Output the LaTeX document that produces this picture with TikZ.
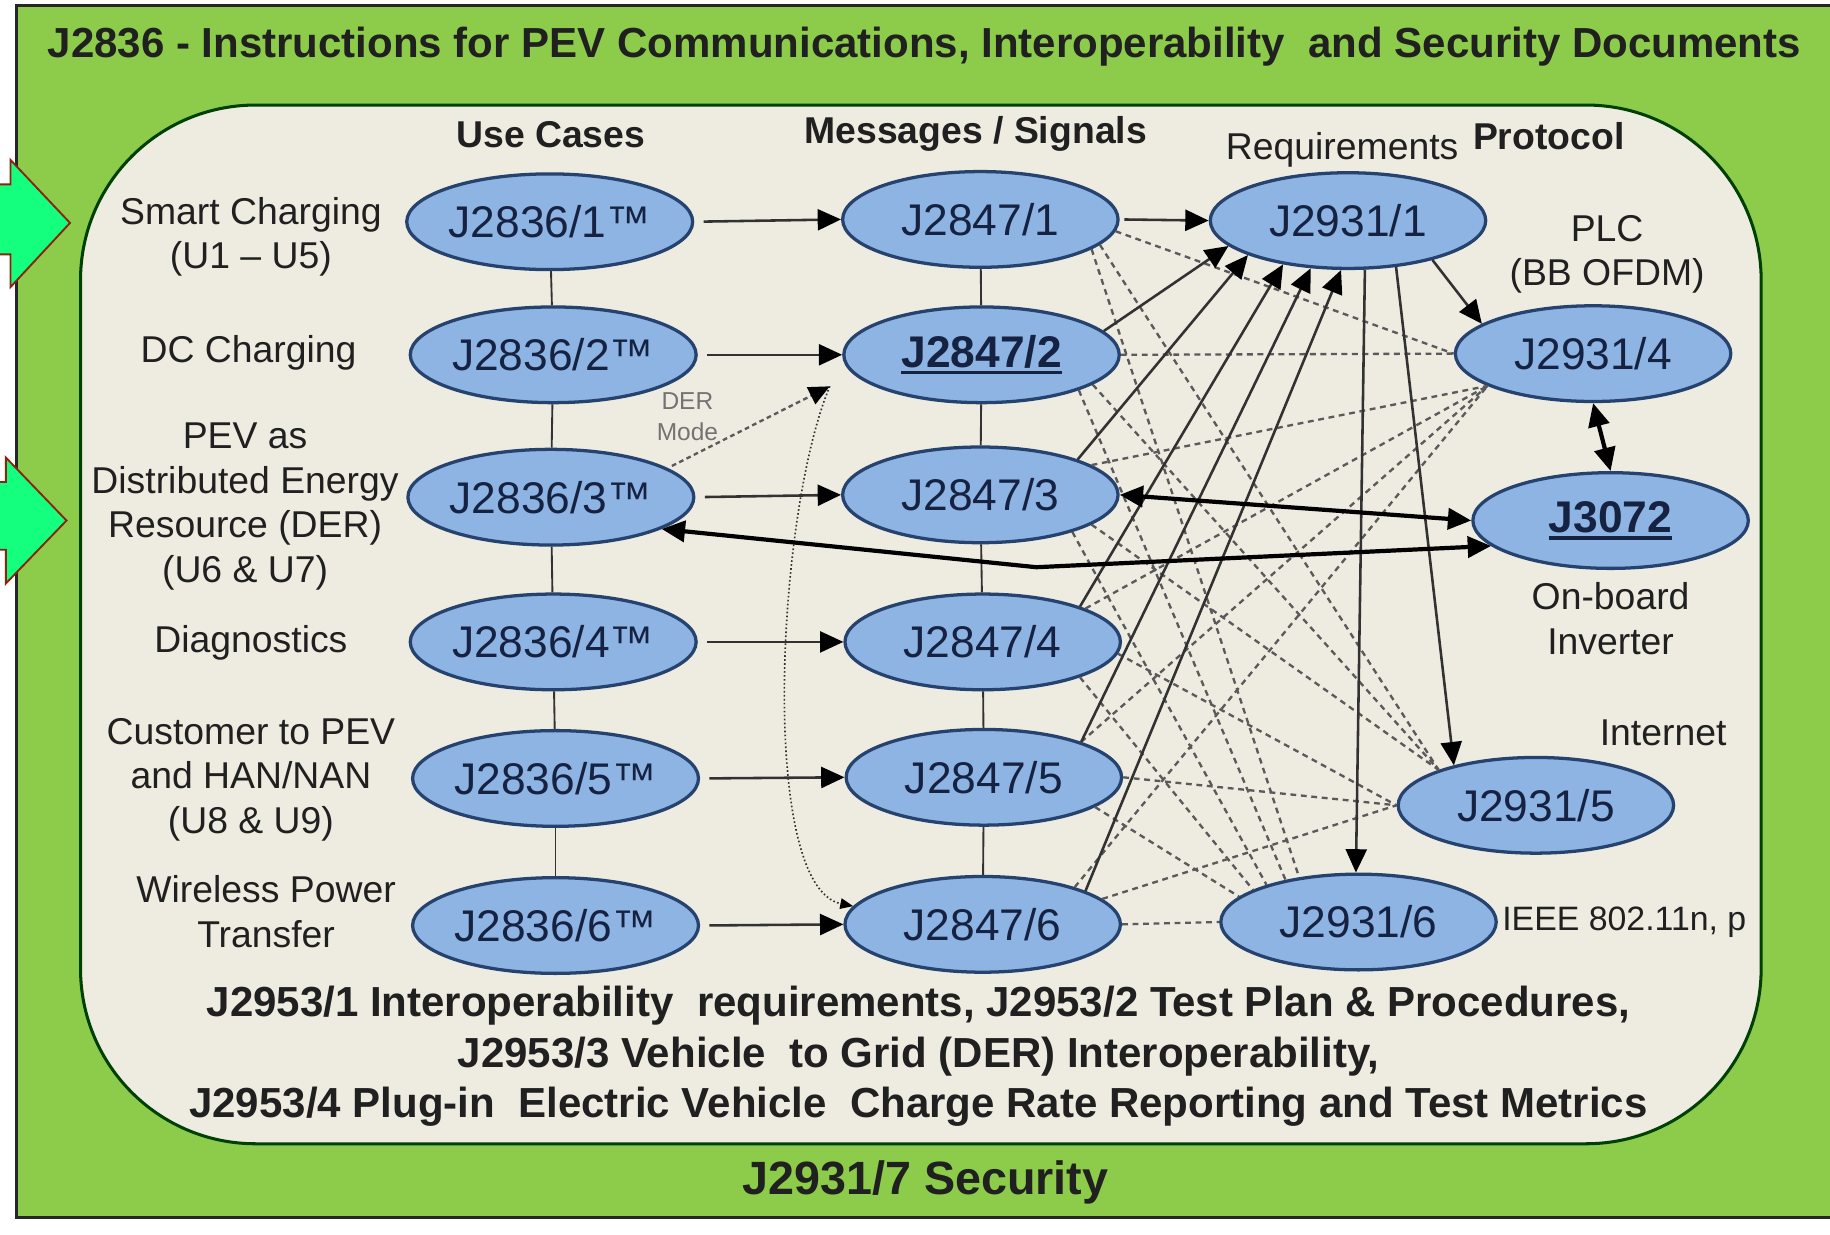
\documentclass[tikz,border=0pt]{standalone}
\usepackage{fontspec}
\setmainfont{Liberation Sans}
\usetikzlibrary{shapes.geometric,arrows.meta}

\definecolor{bandgreen}{RGB}{141,204,74}
\definecolor{panel}{RGB}{238,236,225}
\definecolor{ovalfill}{RGB}{141,180,226}
\definecolor{ovaldraw}{RGB}{38,66,110}
\definecolor{ovaltext}{RGB}{22,34,66}
\definecolor{ink}{RGB}{32,32,32}
\definecolor{linkgray}{RGB}{50,50,50}
\definecolor{dashgray}{RGB}{90,90,90}
\definecolor{pointer}{RGB}{20,255,125}
\definecolor{pointeredge}{RGB}{140,35,15}

% bold text with a heavy underline bar
\newcommand\barunder[1]{\setbox0\hbox{\bfseries #1}\rlap{\rule[-6pt]{\wd0}{3pt}}\box0}

\begin{document}
\begin{tikzpicture}[x=1pt,y=-1pt,
  oval/.style={ellipse, draw=ovaldraw, line width=2.8pt, fill=ovalfill,
    minimum width=236pt, minimum height=82pt, inner sep=0pt,
    text=ovaltext, font=\fontsize{38}{38}\selectfont},
  lbl/.style={text=ink, font=\fontsize{32}{38}\selectfont, align=center, inner sep=0pt},
  hdr/.style={text=ink, font=\bfseries\fontsize{32}{38}\selectfont, inner sep=0pt},
  tie/.style={draw=linkgray, line width=1.6pt},
  flow/.style={draw=linkgray, line width=2.2pt,
    -{Triangle[length=20pt,width=18pt,color=black]}},
  heavy/.style={draw=black, line width=3.6pt,
    {Triangle[length=20pt,width=18pt]}-{Triangle[length=20pt,width=18pt]}},
  weak/.style={draw=dashgray, line width=2pt, dash pattern=on 5pt off 4pt},
]
% page and frames
\useasboundingbox (0,0) rectangle (1568,1058);
\fill[white] (0,0) rectangle (1568,1058);
\draw[fill=bandgreen, draw=black!85, line width=2.6pt] (14,5) rectangle (1600,1043);
\draw[fill=panel, draw=black!75!green, line width=2.6pt, rounded corners=150pt]
  (69,90) rectangle (1509,980);

% side pointers
\draw[fill=pointer, draw=pointeredge, line width=1.6pt]
  (-5,158) -- (9,158) -- (9,137) -- (60,191) -- (9,246) -- (9,218) -- (-5,218) -- cycle;
\draw[fill=pointer, draw=pointeredge, line width=1.6pt]
  (-5,413) -- (5,413) -- (5,392) -- (57,446) -- (5,500) -- (5,471) -- (-5,471) -- cycle;

% titles
\node[text=ink, font=\bfseries\fontsize{36}{40}\selectfont, inner sep=0pt] (title) at (792,40)
  {J2836 - Instructions for PEV Communications, Interoperability \ and Security Documents};
\node[hdr] (hcases) at (472,115) {Use Cases};
\node[hdr] (hmsg) at (836,115) {Messages / Signals};
\node[lbl] (hreq) at (1150,128) {Requirements};
\node[hdr] (hproto) at (1327,117) {Protocol};

% use-case labels
\node[lbl] (t1) at (215,203) {Smart Charging\\(U1 – U5)};
\node[lbl] (t2) at (213,302) {DC Charging};
\node[lbl] (t3) at (210,434) {PEV as\\Distributed Energy\\Resource (DER)\\(U6 \& U7)};
\node[lbl] (t4) at (215,551) {Diagnostics};
\node[lbl] (t5) at (215,668) {Customer to PEV\\and HAN/NAN\\(U8 \& U9)};
\node[lbl] (t6) at (228,781) {Wireless Power\\Transfer};

% protocol labels
\node[lbl] (plc) at (1377,218) {PLC\\(BB OFDM)};
\node[lbl] (obi) at (1380,530) {On-board\\Inverter};
\node[lbl] (net) at (1425,628) {Internet};
\node[lbl, anchor=west, font=\fontsize{29}{34}\selectfont] (wifi) at (1287,790) {IEEE 802.11n, p};
\node[lbl, text=black!55, font=\fontsize{21}{27}\selectfont] (der) at (589,357) {DER\\Mode};

% use cases
\node[oval] (u1) at (471,190) {J2836/1™};
\node[oval] (u2) at (474,304) {J2836/2™};
\node[oval] (u3) at (472,426) {J2836/3™};
\node[oval] (u4) at (474,550) {J2836/4™};
\node[oval] (u5) at (476,667) {J2836/5™};
\node[oval] (u6) at (476,793) {J2836/6™};
% messages
\node[oval] (m1) at (840,188) {J2847/1};
\node[oval] (m2) at (841,304) {\barunder{J2847/2}};
\node[oval] (m3) at (840,424) {J2847/3};
\node[oval] (m4) at (842,550) {J2847/4};
\node[oval] (m5) at (843,666) {J2847/5};
\node[oval] (m6) at (842,792) {J2847/6};
% requirements and protocols
\node[oval] (r1) at (1155,189) {J2931/1};
\node[oval] (r4) at (1365,303) {J2931/4};
\node[oval] (inv) at (1380,446) {\barunder{J3072}};
\node[oval] (r5) at (1316,690) {J2931/5};
\node[oval] (r6) at (1164,790) {J2931/6};

% column ties
\foreach \a/\b in {1/2,2/3,3/4,4/5,5/6} {
  \draw[tie] (u\a) -- (u\b);
  \draw[tie] (m\a) -- (m\b);
}

% use case to message
\foreach \k in {1,...,6}
  \draw[flow, shorten <=8pt] (u\k.east) -- (m\k.west);

% message to protocol (dashed mesh)
\foreach \k/\sa/\tgt in {1/-5/r4.180, 1/-12/r5.160, 1/-15/r6.143,
                         2/0/r4.180, 2/-15/r5.160, 2/-20/r6.150,
                         3/15/r4.197, 3/-15/r5.160, 3/-22/r6.158,
                         4/18/r4.197, 4/-5/r5.180, 4/-20/r6.163,
                         5/20/r4.197, 5/0/r5.180, 5/-15/r6.168,
                         6/22/r4.197, 6/12/r5.180, 6/0/r6.180}
  \draw[weak] (m\k.\sa) -- (\tgt);

% message to requirements
\draw[flow, shorten <=4pt] (m1.east) -- (r1.west);
\draw[flow] (m2.11) -- (r1.192);
\draw[flow] (m3.20) -- (r1.199);
\draw[flow] (m4.20) -- (r1.214);
\draw[flow] (m5.20) -- (r1.232);
\draw[flow] (m6.18) -- (r1.262);

% requirements to protocols
\draw[flow] (r1.-25) -- (r4.165);
\draw[flow] (r1.-44) -- (r5.154);
\draw[flow] (r1.-71) -- (r6.93);

% DER mode link and the message loop
\coordinate (dertip) at (711,331);
\draw[draw=dashgray, line width=2pt, dash pattern=on 4pt off 3pt,
  -{Triangle[length=18pt,width=16pt,color=black]}, shorten <=4pt] (u3.14) -- (dertip);
\draw[draw=linkgray, line width=1.4pt, dotted, -{Triangle[length=11pt,width=9pt,color=black]}]
  (dertip) .. controls (665,440) and (650,760) .. (m6.172);

% on-board inverter links
\coordinate (bend) at (888,486);
\draw[heavy] (m3.east) -- (inv.west);
\draw[heavy] (u3.-16) -- (bend) -- (inv.192);
\draw[heavy] (r4.south) -- (inv.north);

% footer texts
\node[text=ink, font=\bfseries\fontsize{36}{43}\selectfont, align=center, inner sep=0pt] (foot) at (787,905)
  {J2953/1 Interoperability \ requirements, J2953/2 Test Plan \& Procedures,\\
   J2953/3 Vehicle \ to Grid (DER) Interoperability,\\
   J2953/4 Plug-in \ Electric Vehicle \ Charge Rate Reporting and Test Metrics};
\node[text=ink, font=\bfseries\fontsize{40}{44}\selectfont, inner sep=0pt] (sec) at (793,1013) {J2931/7 Security};
\end{tikzpicture}
\end{document}
